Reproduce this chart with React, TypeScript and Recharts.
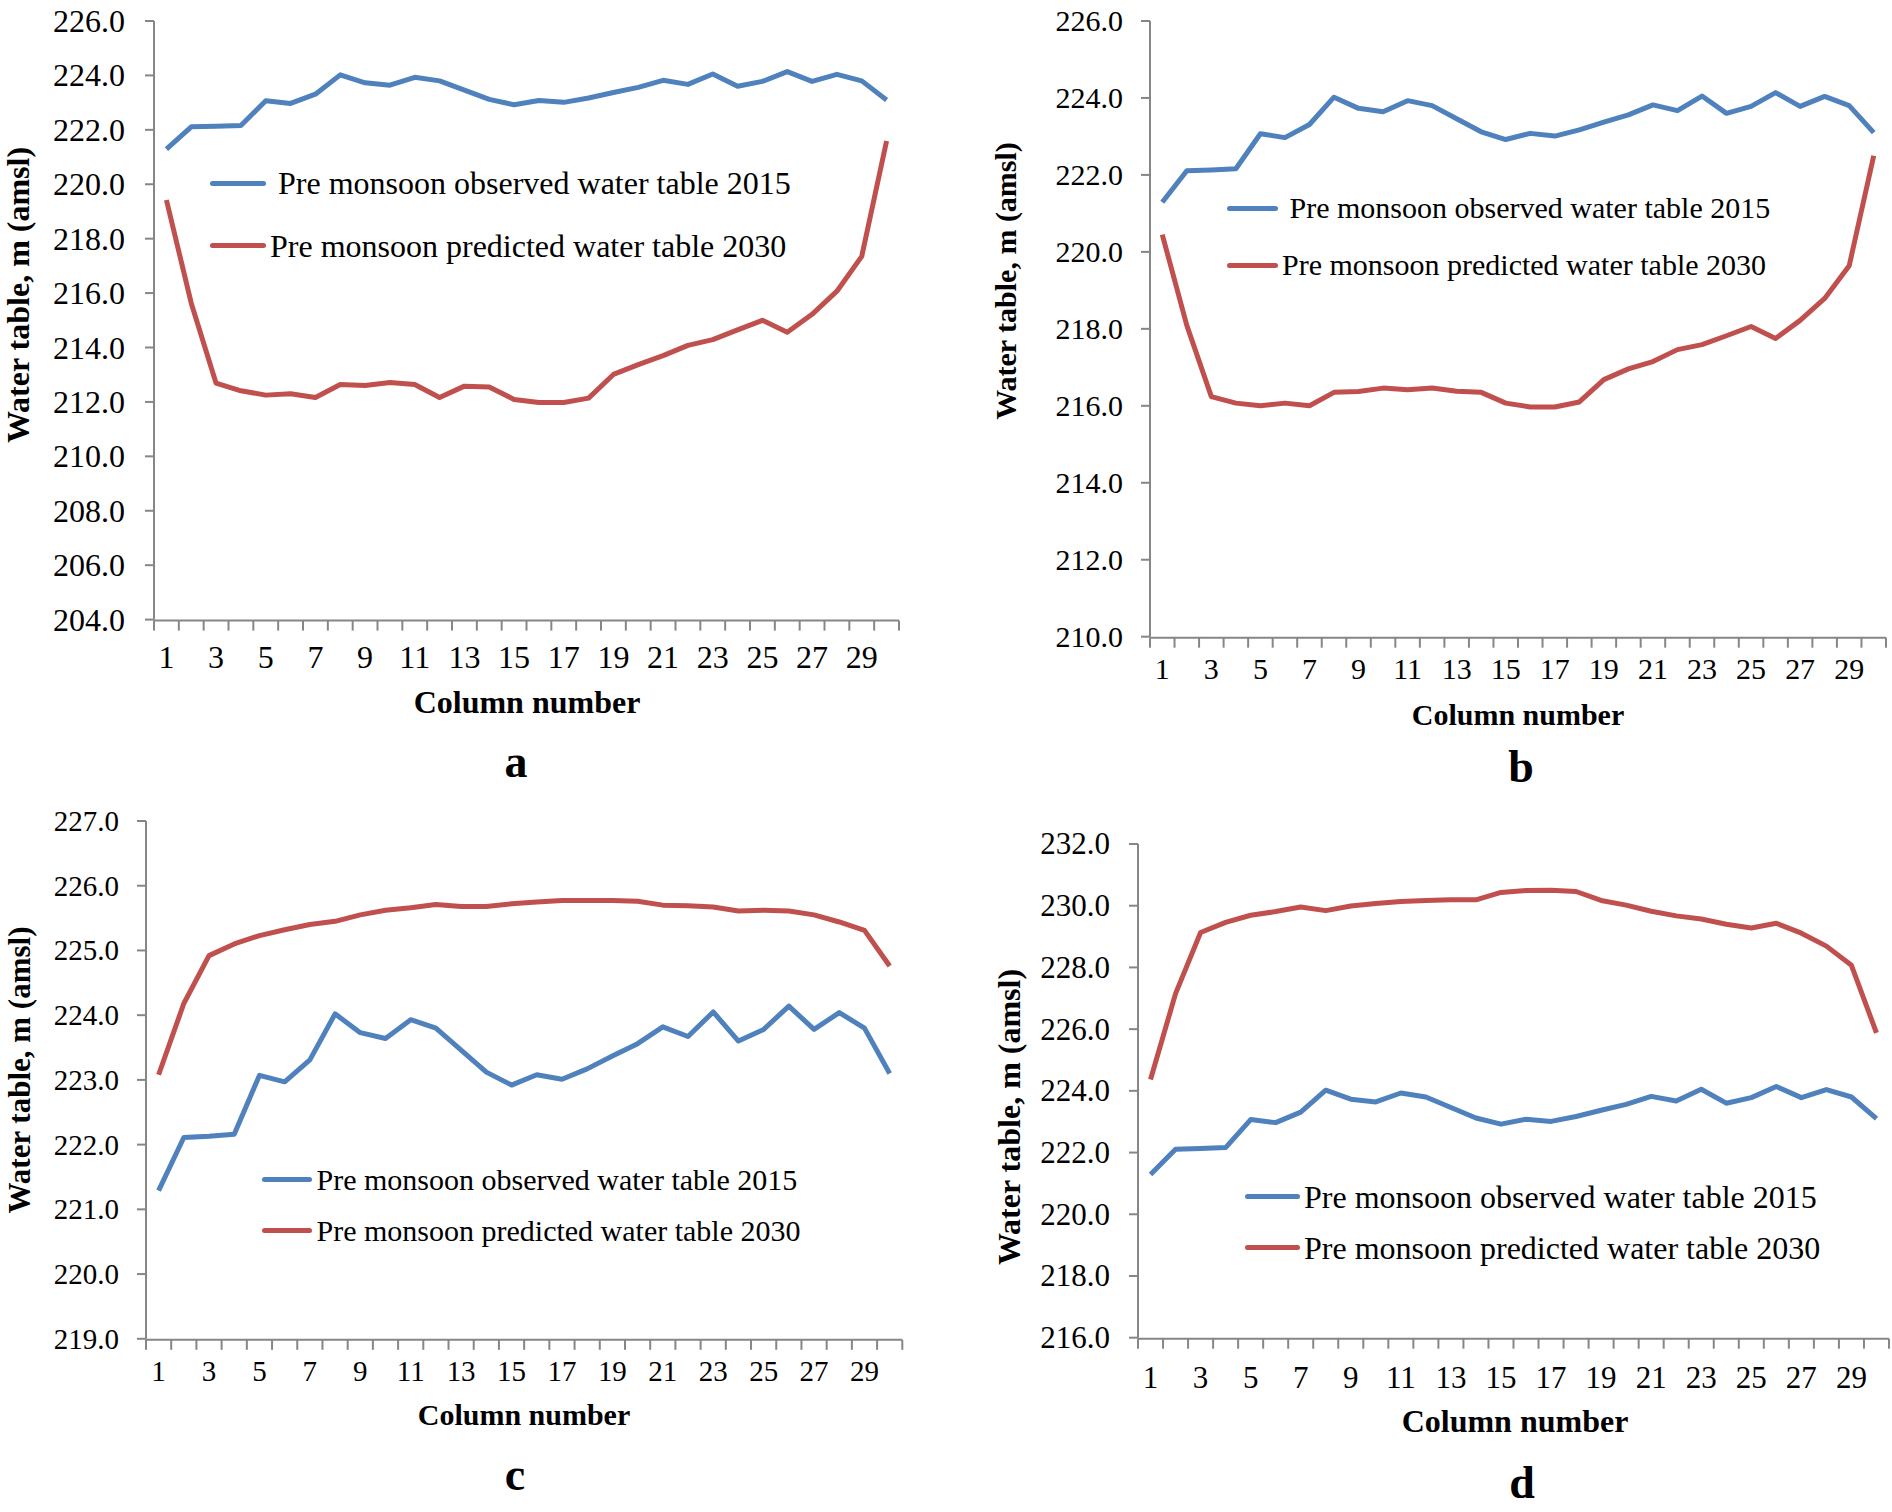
import React from 'react';
import { LineChart, Line, XAxis, YAxis, Legend } from 'recharts';

const columns = [1, 2, 3, 4, 5, 6, 7, 8, 9, 10, 11, 12, 13, 14, 15, 16, 17, 18, 19, 20, 21, 22, 23, 24, 25, 26, 27, 28, 29, 30];

const observed2015 = [221.29, 222.11, 222.13, 222.16, 223.07, 222.97, 223.31, 224.02, 223.73, 223.64, 223.93, 223.8, 223.46, 223.12, 222.92, 223.08, 223.01, 223.17, 223.37, 223.56, 223.82, 223.67, 224.05, 223.6, 223.78, 224.14, 223.78, 224.04, 223.8, 223.1];

const predictedA = [219.42, 215.63, 212.69, 212.41, 212.25, 212.3, 212.16, 212.64, 212.6, 212.71, 212.64, 212.16, 212.58, 212.55, 212.09, 211.98, 211.98, 212.14, 213.01, 213.37, 213.7, 214.08, 214.29, 214.65, 215.0, 214.56, 215.22, 216.07, 217.35, 221.59];
const predictedB = [220.45, 218.09, 216.24, 216.07, 216.0, 216.07, 216.0, 216.35, 216.37, 216.46, 216.42, 216.46, 216.38, 216.35, 216.07, 215.97, 215.97, 216.1, 216.68, 216.96, 217.15, 217.46, 217.59, 217.82, 218.06, 217.75, 218.22, 218.79, 219.64, 222.5];
const predictedC = [223.08, 224.18, 224.92, 225.1, 225.23, 225.32, 225.4, 225.45, 225.55, 225.62, 225.66, 225.71, 225.68, 225.68, 225.72, 225.75, 225.77, 225.77, 225.77, 225.76, 225.7, 225.69, 225.67, 225.61, 225.62, 225.61, 225.55, 225.44, 225.31, 224.76];
const predictedD = [224.37, 227.15, 229.13, 229.46, 229.69, 229.81, 229.96, 229.84, 229.99, 230.07, 230.14, 230.17, 230.19, 230.19, 230.43, 230.49, 230.5, 230.46, 230.17, 230.02, 229.82, 229.67, 229.57, 229.4, 229.28, 229.43, 229.11, 228.69, 228.07, 225.88];

const yTicksA = [204, 206, 208, 210, 212, 214, 216, 218, 220, 222, 224, 226];
const yTicksB = [210, 212, 214, 216, 218, 220, 222, 224, 226];
const yTicksC = [219, 220, 221, 222, 223, 224, 225, 226, 227];
const yTicksD = [216, 218, 220, 222, 224, 226, 228, 230, 232];
const xTickLabels = [1, 3, 5, 7, 9, 11, 13, 15, 17, 19, 21, 23, 25, 27, 29];

const observedName = 'Pre monsoon observed water table 2015';
const predictedName = 'Pre monsoon predicted water table 2030';
const yTitle = 'Water table, m (amsl)';
const xTitle = 'Column number';

const BLUE = '#4F81BD';
const RED = '#C0504D';
const AXIS = '#868686';
const FONT = '"Liberation Serif", "Times New Roman", serif';
const PAGE_W = 1892;
const PAGE_H = 1512;

// boundaries between columns, where Excel puts the tick marks
const xTickMarks = [...columns.map((c) => c - 0.5), columns[columns.length - 1] + 0.5];

const panels = [
  {
    letter: 'a', predicted: predictedA, yTicks: yTicksA,
    plot: { l: 154, t: 20.7, r: 899, b: 619.3 },
    tickFont: 32, yTickGap: 20, xTickGap: 16.5,
    legend: { x: 210, y: 183.5, gap: 62.5, font: 32, lineLen: 56, lead: true },
    yT: { x: 18, y: 295, font: 32 }, xT: { x: 527, y: 713, font: 32 }, lt: { x: 516, y: 777 },
  },
  {
    letter: 'b', predicted: predictedB, yTicks: yTicksB,
    plot: { l: 1150, t: 21, r: 1886, b: 636.7 },
    tickFont: 30, yTickGap: 18, xTickGap: 12.5,
    legend: { x: 1227, y: 208, gap: 57, font: 30, lineLen: 51, lead: true },
    yT: { x: 1005, y: 281, font: 30 }, xT: { x: 1518, y: 725, font: 30 }, lt: { x: 1521, y: 782 },
  },
  {
    letter: 'c', predicted: predictedC, yTicks: yTicksC,
    plot: { l: 145.7, t: 820.7, r: 902, b: 1338.5 },
    tickFont: 29, yTickGap: 18, xTickGap: 12.5,
    legend: { x: 262.5, y: 1180, gap: 51, font: 30, lineLen: 50, lead: false },
    yT: { x: 19, y: 1070, font: 31 }, xT: { x: 524, y: 1425, font: 30 }, lt: { x: 515, y: 1490 },
  },
  {
    letter: 'd', predicted: predictedD, yTicks: yTicksD,
    plot: { l: 1138, t: 844.3, r: 1889, b: 1338 },
    tickFont: 31, yTickGap: 19, xTickGap: 19.5,
    legend: { x: 1245, y: 1197, gap: 51, font: 32, lineLen: 55, lead: false },
    yT: { x: 1009, y: 1117, font: 32 }, xT: { x: 1515, y: 1432, font: 32 }, lt: { x: 1522, y: 1498 },
  },
];

type PanelCfg = typeof panels[number];

const LegendBox = ({ cfg }: { cfg: PanelCfg }) => {
  const lg = cfg.legend;
  const items = [
    { name: (lg.lead ? ' ' : '') + observedName, color: BLUE },
    { name: predictedName, color: RED },
  ];
  return (
    <div style={{ fontFamily: FONT, fontSize: lg.font, color: '#000' }}>
      {items.map((it) => (
        <div key={it.name} style={{ display: 'flex', alignItems: 'center', height: lg.gap }}>
          <span style={{ display: 'inline-block', width: lg.lineLen, height: 5, borderRadius: 3, background: it.color }} />
          <span style={{ marginLeft: 4, lineHeight: 1, whiteSpace: 'pre' }}>{it.name}</span>
        </div>
      ))}
    </div>
  );
};

const YTick = (props: any) => {
  const { x, y, payload, fontSize } = props;
  return (
    <text x={x} y={y} textAnchor="end" dominantBaseline="central" fontFamily={FONT} fontSize={fontSize} fill="#000">
      {Number(payload.value).toFixed(1)}
    </text>
  );
};

const XTick = (props: any) => {
  const { x, y, payload, fontSize } = props;
  return (
    <text x={x} y={y} dy="0.71em" textAnchor="middle" fontFamily={FONT} fontSize={fontSize} fill="#000">
      {payload.value}
    </text>
  );
};

const Panel = ({ cfg }: { cfg: PanelCfg }) => {
  const yAxisW = 110;
  const mTop = 20;
  const mBottom = 70;
  const mRight = Math.min(6, PAGE_W - cfg.plot.r);
  const left = cfg.plot.l - yAxisW;
  const top = cfg.plot.t - mTop;
  const width = cfg.plot.r - left + mRight;
  const height = cfg.plot.b - top + mBottom + 2;
  const rows = columns.map((col, i) => ({ col, observed: observed2015[i], predicted: cfg.predicted[i] }));
  const yMin = cfg.yTicks[0];
  const yMax = cfg.yTicks[cfg.yTicks.length - 1];

  return (
    <div style={{ position: 'absolute', left, top, width, height }}>
      <LineChart width={width} height={height} data={rows} margin={{ top: mTop, right: mRight, bottom: mBottom, left: 0 }}>
        <XAxis
          xAxisId="marks"
          dataKey="col"
          type="number"
          domain={[0.5, 30.5]}
          ticks={xTickMarks}
          interval={0}
          height={1}
          tickSize={10}
          tick={() => <g />}
          axisLine={{ stroke: AXIS, strokeWidth: 2 }}
          tickLine={{ stroke: AXIS, strokeWidth: 2 }}
          allowDataOverflow
        />
        <XAxis
          xAxisId="lbl"
          dataKey="col"
          type="number"
          domain={[0.5, 30.5]}
          ticks={xTickLabels}
          interval={0}
          height={1}
          tickSize={10}
          tickMargin={cfg.xTickGap - 1}
          axisLine={false}
          tickLine={false}
          tick={(p: any) => <XTick {...p} fontSize={cfg.tickFont} />}
          allowDataOverflow
        />
        <YAxis
          type="number"
          domain={[yMin, yMax]}
          ticks={cfg.yTicks}
          interval={0}
          width={yAxisW}
          tickSize={9}
          tickMargin={cfg.yTickGap}
          tick={(p: any) => <YTick {...p} fontSize={cfg.tickFont} />}
          axisLine={{ stroke: AXIS, strokeWidth: 2 }}
          tickLine={{ stroke: AXIS, strokeWidth: 2 }}
          allowDataOverflow
        />
        <Legend
          layout="vertical"
          align="center"
          verticalAlign="middle"
          wrapperStyle={{ left: cfg.legend.x - left, top: cfg.legend.y - cfg.legend.gap / 2 - top, width: 720 }}
          content={() => <LegendBox cfg={cfg} />}
        />
        <Line
          xAxisId="lbl"
          type="linear"
          dataKey="observed"
          name={observedName}
          stroke={BLUE}
          strokeWidth={5}
          strokeLinejoin="round"
          dot={false}
          activeDot={false}
          isAnimationActive={false}
        />
        <Line
          xAxisId="lbl"
          type="linear"
          dataKey="predicted"
          name={predictedName}
          stroke={RED}
          strokeWidth={5}
          strokeLinejoin="round"
          dot={false}
          activeDot={false}
          isAnimationActive={false}
        />
      </LineChart>
    </div>
  );
};

export default function App() {
  return (
    <div style={{ position: 'absolute', left: 0, top: 0, width: PAGE_W, height: PAGE_H, background: '#fff', overflow: 'hidden' }}>
      {panels.map((p) => (
        <Panel key={p.letter} cfg={p} />
      ))}
      <svg width={PAGE_W} height={PAGE_H} style={{ position: 'absolute', left: 0, top: 0, pointerEvents: 'none' }}>
        {panels.map((p) => (
          <g key={p.letter} fontFamily={FONT} fontWeight="bold" fill="#000">
            <text
              transform={`translate(${p.yT.x} ${p.yT.y}) rotate(-90)`}
              textAnchor="middle"
              dominantBaseline="central"
              fontSize={p.yT.font}
            >
              {yTitle}
            </text>
            <text x={p.xT.x} y={p.xT.y} textAnchor="middle" fontSize={p.xT.font}>
              {xTitle}
            </text>
            <text x={p.lt.x} y={p.lt.y} textAnchor="middle" fontSize={46}>
              {p.letter}
            </text>
          </g>
        ))}
      </svg>
    </div>
  );
}
